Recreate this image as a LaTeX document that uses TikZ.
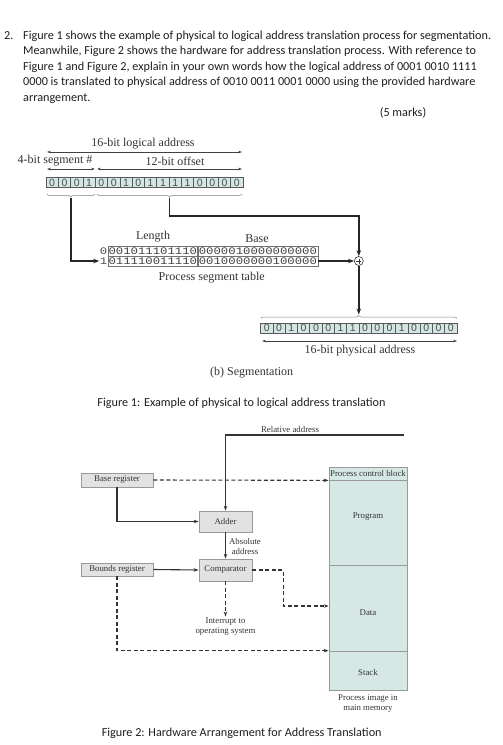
\documentclass[tikz,border=0pt]{standalone}
\usepackage{fontspec}
\setmainfont{Liberation Serif}
\newfontfamily\calfont{Carlito}
\newfontfamily\bitfont{Liberation Sans}
\newfontfamily\tabfont[FakeStretch=1.23]{Liberation Mono}
\usetikzlibrary{arrows.meta,decorations.pathreplacing,calc}
\definecolor{cellteal}{HTML}{D4E6E3}
\definecolor{memteal}{HTML}{D6E8E5}
\definecolor{regfill}{HTML}{E2E2E2}
\definecolor{ink}{HTML}{333333}
\begin{document}
\begin{tikzpicture}[x=1pt,y=-1pt,
  qtext/.style={font=\calfont\fontsize{12.2}{14}\selectfont, anchor=base west, inner sep=0pt, text=black!88},
  captext/.style={font=\calfont\fontsize{12.2}{14}\selectfont, inner sep=0pt, text=black!88},
  lab/.style={font=\fontsize{12}{14}\selectfont, text=ink, inner sep=0pt},
  bitcell/.style={draw=black!65, fill=cellteal, minimum width=12.3pt, minimum height=10.5pt, inner sep=0pt, font=\bitfont\fontsize{10.5}{11}\selectfont, text=black!70, line width=0.7pt},
  tabcell/.style={draw=black!55, fill=white, minimum height=10pt, inner sep=0pt, font=\tabfont\fontsize{10}{10}\selectfont, text=black!75, line width=0.6pt},
  tabidx/.style={font=\tabfont\fontsize{10}{10}\selectfont, text=black!70, inner sep=0.5pt},
  dimarrow/.style={{Stealth[length=4pt,width=2.6pt]}-{Stealth[length=4pt,width=2.6pt]}, line width=0.6pt, draw=black!75},
  thickarrow/.style={-{Stealth[length=6pt,width=4.5pt]}, line width=1.8pt, draw=black!85},
  bracestyle/.style={decorate, draw=black!50, line width=0.5pt},
  f2lab/.style={font=\fontsize{8.8}{10}\selectfont, text=ink, inner sep=0pt, align=center},
  reg/.style={draw=black!40, fill=regfill, inner sep=0pt, line width=0.7pt, font=\fontsize{8.8}{10}\selectfont, text=ink},
  mem/.style={draw=black!40, fill=memteal, inner sep=0pt, line width=0.7pt, minimum width=78pt, font=\fontsize{8.8}{10}\selectfont, text=ink},
  solidarrow/.style={-{Stealth[length=5pt,width=3.5pt]}, line width=1.1pt, draw=black!80},
  dasharrow/.style={solidarrow, dash pattern=on 4pt off 2.5pt}
]
\useasboundingbox[fill=white] (0,0) rectangle (503,745);

% ---------------- Question text ----------------
\node[qtext] (qn) at (4,39) {2.};
\node[qtext] (q1) at (23,39) {Figure 1 shows the example of physical to logical address translation process for segmentation.};
\node[qtext] (q2) at (23,54.6) {Meanwhile, Figure 2 shows the hardware for address translation process. With reference to};
\node[qtext] (q3) at (23,70.2) {Figure 1 and Figure 2, explain in your own words how the logical address of 0001 0010 1111};
\node[qtext] (q4) at (23,85.8) {0000 is translated to physical address of 0010 0011 0001 0000 using the provided hardware};
\node[qtext] (q5) at (23,101.4) {arrangement.};
\node[captext] (marks) at (403,113) {(5 marks)};

% ---------------- Figure 1 ----------------
\node[lab] (lablog) at (143,144) {16-bit logical address};
\node[lab] (labseg) at (55,161) {4-bit segment \#};
\node[lab] (laboff) at (175,161) {12-bit offset};
\coordinate (dl1) at (47,152); \coordinate (dl2) at (242,152);
\coordinate (ds1) at (47,169); \coordinate (ds2) at (95,169);
\coordinate (do1) at (97,169); \coordinate (do2) at (242,169);
\draw[dimarrow] (dl1) -- (dl2);
\draw[dimarrow] (ds1) -- (ds2);
\draw[dimarrow] (do1) -- (do2);

\foreach \b [count=\i] in {0,0,0,1,0,0,1,0,1,1,1,1,0,0,0,0}
  \node[bitcell] (L\i) at ({52.15+12.31*(\i-1)},182.5) {\b};

\coordinate (bs1) at (47,194); \coordinate (bs2) at (95,194);
\coordinate (bo1) at (97,194); \coordinate (bo2) at (242,194);
\draw[bracestyle, decoration={brace,mirror,amplitude=3pt}] (bs1) -- (bs2);
\draw[bracestyle, decoration={brace,mirror,amplitude=3pt}] (bo1) -- (bo2);
\coordinate (segtip) at (71,198);
\coordinate (offtip) at (169.5,198);

\node[lab] (lablen) at (153,237) {Length};
\node[lab] (labbase) at (257,239) {Base};
\node[tabcell, minimum width=89pt, anchor=west] (t0len) at (108,251) {001011101110};
\node[tabcell, minimum width=120pt, anchor=west] (t0base) at (t0len.east) {0000010000000000};
\node[tabcell, minimum width=89pt, anchor=west] (t1len) at (108,261) {011110011110};
\node[tabcell, minimum width=120pt, anchor=west] (t1base) at (t1len.east) {0010000000100000};
\node[tabidx, anchor=east] (i0) at (t0len.west) {0};
\node[tabidx, anchor=east] (i1) at (t1len.west) {1};
\node[lab] (labtab) at (211.7,278) {Process segment table};

\node[circle, draw=black!80, line width=0.6pt, minimum size=9pt, inner sep=0pt,
  path picture={\draw[line width=0.5pt,black!80] ([xshift=-2.5pt]path picture bounding box.center) -- ([xshift=2.5pt]path picture bounding box.center);
                \draw[line width=0.5pt,black!80] ([yshift=-2.5pt]path picture bounding box.center) -- ([yshift=2.5pt]path picture bounding box.center);}]
  (plus) at (358.8,261) {};

\coordinate (bend) at (358.8,216);
\draw[thickarrow] (segtip) |- (i1.west);
\draw[thickarrow] (offtip) |- (bend) -- (plus.north);
\draw[thickarrow] (t1base.east) -- (plus.west);

\foreach \b [count=\i] in {0,0,1,0,0,0,1,1,0,0,0,1,0,0,0,0}
  \node[bitcell] (P\i) at ({266.85+12.27*(\i-1)},328.3) {\b};
\coordinate (pb1) at (260.7,318.5); \coordinate (pb2) at (457,318.5);
\draw[bracestyle, decoration={brace,amplitude=3pt}] (pb1) -- (pb2);
\coordinate (ptip) at (358.8,314.5);
\draw[thickarrow] (plus.south) -- (ptip);
\coordinate (dp1) at (262,341); \coordinate (dp2) at (457,341);
\draw[dimarrow] (dp1) -- (dp2);
\node[lab] (labphys) at (360,351) {16-bit physical address};
\node[lab] (labseg2) at (251.7,373) {(b) Segmentation};
\node[captext] (cap1) at (241.5,403) {Figure 1: Example of physical to logical address translation};

% ---------------- Figure 2 ----------------
\node[f2lab] (rellab) at (290,429) {Relative address};
\coordinate (relin) at (404,435);
\node[reg, minimum width=72pt, minimum height=14pt] (basereg) at (117,480) {Base register};
\node[reg, minimum width=72pt, minimum height=13pt] (bounds) at (117,569.5) {Bounds register};
\node[reg, minimum width=53pt, minimum height=21pt] (adder) at (225.5,521.5) {Adder};
\node[reg, minimum width=53pt, minimum height=22pt] (comp) at (225.5,570) {Comparator};

\node[mem, minimum height=13pt] (pcb) at (368,473.5) {Process control block};
\node[mem, minimum height=85pt] (prog) at (368,522.5) {};
\node[mem, minimum height=86pt] (data) at (368,608) {};
\node[mem, minimum height=39pt] (stack) at (368,670.5) {};
\node[f2lab] (progtxt) at (368,517) {Program};
\node[f2lab] (datatxt) at (368,613) {Data};
\node[f2lab] (stacktxt) at (368,672) {Stack};
\node[f2lab] (memcap) at (368,704) {Process image in\\main memory};

\node[f2lab] (abslab) at (245,546) {Absolute\\address};
\node[f2lab] (intr) at (225.5,627) {Interrupt to\\operating system};

\draw[solidarrow] (relin) -| (adder.north);
\draw[dasharrow] (basereg.east) -- (pcb.south west);
\draw[solidarrow] (basereg.south) |- (adder.west);
\draw[solidarrow] (adder.south) -- (comp.north);
\draw[solidarrow] (bounds.east) -- (comp.west);
\draw[dasharrow] (comp.east) -- ++(31,0) |- ([yshift=2pt]data.west);
\draw[dasharrow] (comp.south) -- ([yshift=1.5pt]intr.north);
\draw[dasharrow] (bounds.south) |- (stack.north west);

\node[captext] (cap2) at (241.7,733) {Figure 2: Hardware Arrangement for Address Translation};
\end{tikzpicture}
\end{document}
